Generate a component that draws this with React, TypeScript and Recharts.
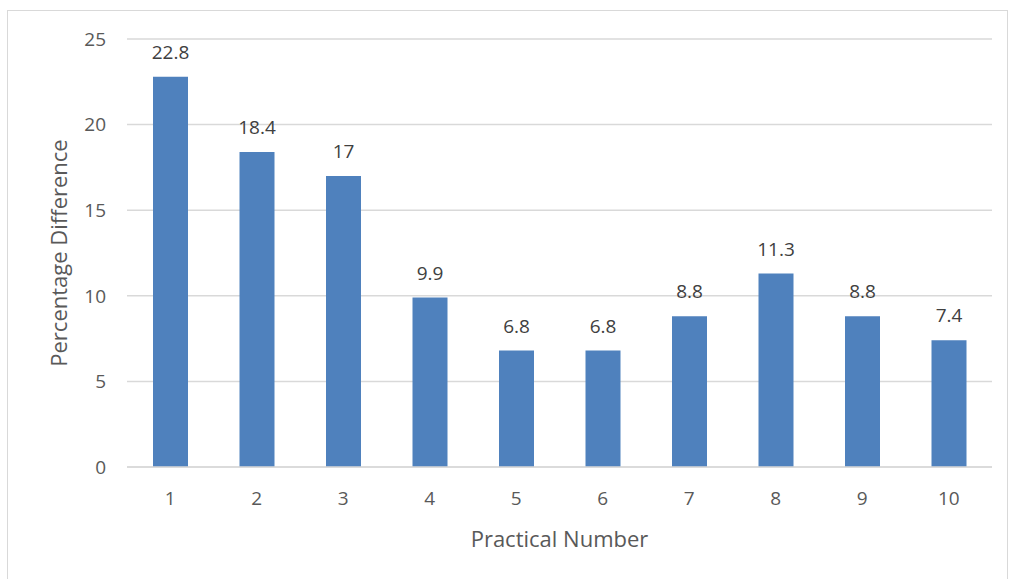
import { Bar, BarChart, CartesianGrid, LabelList, XAxis, YAxis } from "recharts";

const practicals = ["1", "2", "3", "4", "5", "6", "7", "8", "9", "10"];
const percentDiff = [22.8, 18.4, 17, 9.9, 6.8, 6.8, 8.8, 11.3, 8.8, 7.4];
const yTicks = [0, 5, 10, 15, 20, 25];

const data = practicals.map((p, i) => ({ practical: p, diff: percentDiff[i] }));

const FONT = "'Open Sans', sans-serif";
const TEXT = "#595959";
const GRID = "#d9d9d9";

const YTitle = ({ viewBox }: any) => {
  const cx = viewBox.x + 50;
  const cy = viewBox.y + viewBox.height / 2;
  return (
    <text
      x={cx}
      y={cy}
      transform={`rotate(-90 ${cx} ${cy})`}
      textAnchor="middle"
      dominantBaseline="central"
      fill={TEXT}
      fontSize={22}
      fontFamily={FONT}
    >
      Percentage Difference
    </text>
  );
};

const XTitle = ({ viewBox }: any) => {
  const cx = viewBox.x + viewBox.width / 2;
  return (
    <text
      x={cx}
      y={viewBox.y + 71}
      textAnchor="middle"
      dominantBaseline="central"
      fill={TEXT}
      fontSize={22}
      fontFamily={FONT}
    >
      Practical Number
    </text>
  );
};

export default function App() {
  return (
    <div
      style={{
        position: "absolute",
        left: 7,
        top: 10,
        width: 999,
        height: 580,
        border: `1px solid ${GRID}`,
        background: "#fff",
      }}
    >
      <BarChart
        width={999}
        height={568}
        data={data}
        margin={{ top: 28, right: 15, bottom: 23, left: 0 }}
      >
        <CartesianGrid vertical={false} stroke={GRID} strokeWidth={1.5} />
        <XAxis
          dataKey="practical"
          height={89}
          tickLine={false}
          axisLine={{ stroke: GRID, strokeWidth: 1.5 }}
          tickMargin={19}
          tick={{ fill: TEXT, fontSize: 19, fontFamily: FONT }}
          label={<XTitle />}
        />
        <YAxis
          width={119}
          domain={[0, 25]}
          ticks={yTicks}
          tickLine={false}
          axisLine={false}
          tickMargin={15}
          tick={{ fill: TEXT, fontSize: 19, fontFamily: FONT }}
          label={<YTitle />}
        />
        <Bar dataKey="diff" fill="#4f81bd" barSize={35} isAnimationActive={false}>
          <LabelList
            dataKey="diff"
            position="top"
            offset={18}
            fill="#404040"
            fontSize={19}
            fontFamily={FONT}
          />
        </Bar>
      </BarChart>
    </div>
  );
}
